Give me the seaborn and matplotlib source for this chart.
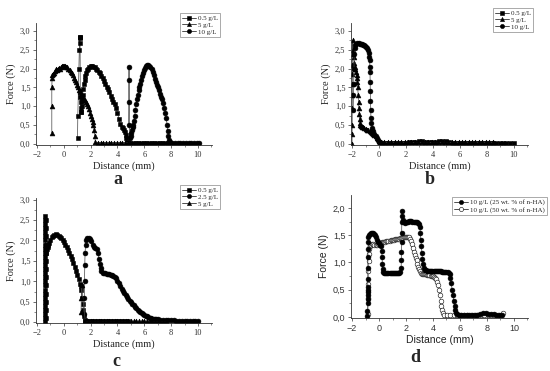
import matplotlib
matplotlib.use("Agg")
import matplotlib.pyplot as plt
import seaborn as sns
from matplotlib.lines import Line2D
from matplotlib.ticker import FuncFormatter, MultipleLocator

sns.set_style("ticks")
plt.rcParams['font.family'] = ['Liberation Serif', 'DejaVu Serif']

# ---------------- Panel a ----------------
A_LABELS = ["0.5 g/L", "5 g/L", "10 g/L"]
A_SQ_X = [1.02, 1.04, 1.12, 1.15, 1.17, 1.19, 1.2, 1.21, 1.22, 1.23, 1.24, 1.25, 1.27, 1.3, 1.33, 1.36, 1.4, 1.45,
          1.5, 1.55, 1.6, 1.66, 1.72, 1.8, 1.9, 2.0, 2.1, 2.2, 2.3, 2.4, 2.5, 2.6, 2.7, 2.8, 2.9, 3.0, 3.1, 3.2,
          3.3, 3.4, 3.5, 3.6, 3.7, 3.8, 3.9, 4.0, 4.1, 4.2, 4.3, 4.4, 4.5, 4.55, 4.6, 4.65, 4.7, 4.75,
          4.95, 5.15, 5.35, 5.55, 5.75, 5.95, 6.15, 6.35, 6.55, 6.75, 6.95, 7.15, 7.35, 7.55, 7.75, 7.95]
A_SQ_Y = [0.15, 0.75, 2.0, 2.5, 2.68, 2.8, 2.85, 2.83, 1.4, 1.25, 1.1, 0.95, 0.85, 0.85, 1.0, 1.15, 1.3, 1.45,
          1.58, 1.7, 1.8, 1.88, 1.95, 2.0, 2.04, 2.06, 2.06, 2.05, 2.03, 2.0, 1.97, 1.92, 1.87, 1.81, 1.74, 1.67, 1.6, 1.52,
          1.45, 1.37, 1.28, 1.2, 1.12, 1.05, 0.95, 0.82, 0.67, 0.53, 0.46, 0.42, 0.38, 0.32, 0.24, 0.15, 0.06, 0.03,
          0.03, 0.03, 0.03, 0.03, 0.03, 0.03, 0.03, 0.03, 0.03, 0.03, 0.03, 0.03, 0.03, 0.03, 0.03, 0.03]
A_TRI_X = [-0.9, -0.9, -0.9, -0.88, -0.85, -0.8, -0.72, -0.65, -0.58, -0.5, -0.42, -0.35, -0.28, -0.2, -0.12, -0.05,
           0.03, 0.1, 0.18, 0.26, 0.34, 0.42, 0.5, 0.58, 0.66, 0.74, 0.82, 0.9, 0.98, 1.06, 1.14, 1.22, 1.3, 1.38,
           1.46, 1.54, 1.62, 1.7, 1.78, 1.86, 1.94, 2.02, 2.08, 2.14, 2.2, 2.25, 2.3, 2.35,
           2.55, 2.75, 2.95, 3.15, 3.35, 3.55, 3.75, 3.95, 4.15, 4.35, 4.55, 4.75, 4.95]
A_TRI_Y = [0.3, 1.0, 1.5, 1.75, 1.82, 1.86, 1.88, 1.93, 1.98, 1.95, 2.0, 2.02, 2.0, 2.04, 2.06, 2.07,
           2.07, 2.06, 2.05, 2.03, 2.0, 1.96, 1.92, 1.87, 1.82, 1.76, 1.7, 1.63, 1.57, 1.5, 1.44, 1.39, 1.33, 1.28,
           1.22, 1.17, 1.11, 1.05, 1.0, 0.92, 0.83, 0.73, 0.65, 0.57, 0.5, 0.38, 0.2, 0.05,
           0.03, 0.03, 0.03, 0.03, 0.03, 0.03, 0.03, 0.03, 0.03, 0.03, 0.03, 0.03, 0.03]
A_CIR_X = [4.83, 4.84, 4.85, 4.86, 4.9, 4.97, 5.02, 5.07, 5.12, 5.17, 5.22, 5.28, 5.34, 5.4, 5.46, 5.52, 5.58, 5.64,
           5.7, 5.77, 5.84, 5.91, 5.98, 6.06, 6.14, 6.22, 6.3, 6.38, 6.46, 6.54, 6.62, 6.7, 6.78, 6.86, 6.94, 7.02,
           7.1, 7.18, 7.26, 7.34, 7.42, 7.5, 7.58, 7.64, 7.7, 7.75, 7.8, 7.85, 7.9,
           8.1, 8.3, 8.5, 8.7, 8.9, 9.1, 9.3, 9.5, 9.7, 9.9, 10.05]
A_CIR_Y = [0.5, 1.1, 1.7, 2.05, 0.15, 0.2, 0.28, 0.38, 0.45, 0.5, 0.6, 0.75, 0.9, 1.05, 1.18, 1.3, 1.42, 1.52,
           1.6, 1.7, 1.8, 1.88, 1.95, 2.02, 2.07, 2.1, 2.1, 2.08, 2.04, 1.98, 1.9, 1.82, 1.73, 1.65, 1.57, 1.5,
           1.42, 1.33, 1.24, 1.18, 1.08, 0.95, 0.82, 0.68, 0.5, 0.35, 0.2, 0.1, 0.04,
           0.03, 0.03, 0.03, 0.03, 0.03, 0.03, 0.03, 0.03, 0.03, 0.03, 0.03]

# ---------------- Panel b ----------------
B_LABELS = ["0.5 g/L", "5 g/L", "10 g/L"]
B_SQ_X = [0.2, 0.45, 0.7, 0.95, 1.2, 1.45, 1.7, 1.95, 2.2, 2.45, 2.7, 2.95, 3.2, 3.45, 3.7, 3.95, 4.2, 4.45,
          4.7, 4.95, 5.2, 5.45, 5.7, 5.95, 6.2, 6.45, 6.7, 6.95, 7.2, 7.45, 7.7, 7.95, 8.2, 8.45, 8.7, 8.95,
          9.2, 9.45, 9.7, 10.0]
B_SQ_Y = [0.03, 0.03, 0.03, 0.03, 0.03, 0.03, 0.03, 0.03, 0.04, 0.05, 0.06, 0.07, 0.07, 0.06, 0.04, 0.04, 0.05, 0.08,
          0.08, 0.07, 0.04, 0.03, 0.03, 0.03, 0.03, 0.03, 0.03, 0.03, 0.03, 0.03, 0.03, 0.03, 0.03, 0.02, 0.02, 0.02,
          0.02, 0.02, 0.02, 0.02]
B_TRI_X = [-2.0, -2.0, -1.99, -1.99, -1.98, -1.98, -1.97, -1.97, -1.96, -1.96, -1.92, -1.88, -1.84, -1.8, -1.75,
           -1.7, -1.65, -1.62, -1.6, -1.58, -1.55, -1.52, -1.5, -1.47, -1.44, -1.41, -1.38, -1.32, -1.25, -1.18,
           -1.1, -1.0, -0.9, -0.8, -0.7, -0.6, -0.5, -0.42, -0.34, -0.26, -0.18, -0.1, -0.02, 0.06, 0.15,
           0.4, 0.65, 0.9, 1.15, 1.4, 1.65, 1.9, 2.15, 2.4, 2.65, 2.9, 3.15, 3.4, 3.65, 3.9, 4.15, 4.4, 4.65,
           4.9, 5.15, 5.4, 5.65, 5.9, 6.15, 6.4, 6.65, 6.9, 7.15, 7.4, 7.65, 7.9, 8.15, 8.45]
B_TRI_Y = [0.0, 0.25, 0.5, 0.95, 1.3, 1.6, 1.85, 2.1, 2.4, 2.75, 2.5, 2.3, 2.15, 2.05, 1.98,
           1.9, 1.83, 1.75, 1.65, 1.5, 1.3, 1.1, 0.95, 0.8, 0.67, 0.56, 0.5, 0.47, 0.45, 0.44,
           0.42, 0.4, 0.38, 0.36, 0.34, 0.32, 0.3, 0.27, 0.24, 0.2, 0.16, 0.12, 0.08, 0.06, 0.04,
           0.04, 0.04, 0.04, 0.04, 0.04, 0.04, 0.04, 0.04, 0.04, 0.04, 0.04, 0.04, 0.04, 0.04, 0.04, 0.04, 0.04, 0.04,
           0.04, 0.04, 0.04, 0.04, 0.04, 0.04, 0.04, 0.04, 0.04, 0.04, 0.04, 0.04, 0.04, 0.04, 0.04]
B_CIR_X = [-1.92, -1.9, -1.88, -1.86, -1.84, -1.8, -1.75, -1.68, -1.6, -1.52, -1.44, -1.36, -1.28, -1.2, -1.12,
           -1.04, -0.96, -0.88, -0.82, -0.77, -0.73, -0.7, -0.68, -0.67, -0.66, -0.65, -0.64, -0.62, -0.6, -0.56,
           -0.5, -0.42, -0.34, -0.26, -0.18, -0.1, 0.0, 0.1]
B_CIR_Y = [0.9, 1.3, 1.6, 2.0, 2.4, 2.55, 2.62, 2.66, 2.67, 2.67, 2.66, 2.65, 2.64, 2.63, 2.62,
           2.6, 2.58, 2.55, 2.5, 2.42, 2.32, 2.22, 2.05, 1.9, 1.65, 1.4, 1.15, 0.9, 0.7, 0.55,
           0.42, 0.33, 0.26, 0.2, 0.15, 0.1, 0.06, 0.04]

# ---------------- Panel c ----------------
C_LABELS = ["0.5 g/L", "2.5 g/L", "5 g/L"]
C_SQ_X = [-1.39, -1.39, -1.39, -1.39, -1.39, -1.39, -1.39, -1.39, -1.39, -1.39, -1.39, -1.39, -1.39, -1.39,
          -1.39, -1.39, -1.39, -1.39, -1.39, -1.39, -1.39, -1.39, -1.39, -1.39, -1.39, -1.39, -1.39,
          -1.35, -1.35, -1.35, -1.35, -1.35, -1.35, -1.35, -1.35, -1.35, -1.35, -1.35, -1.35, -1.35,
          -1.3, -1.25, -1.2, -1.15, -1.1, -1.0, -0.9, -0.8, -0.7, -0.6, -0.5, -0.4, -0.3, -0.2, -0.1, 0.0, 0.1,
          0.2, 0.3, 0.4, 0.5, 0.6, 0.7, 0.8, 0.9, 1.0, 1.1, 1.2, 1.25, 1.3, 1.35, 1.4, 1.45, 1.5, 1.55, 1.6,
          1.8, 2.0, 2.2, 2.4, 2.6, 2.8, 3.0, 3.2, 3.4, 3.6, 3.8, 4.0, 4.2, 4.4, 4.6, 4.8]
C_SQ_Y = [0.0, 0.1, 0.2, 0.3, 0.4, 0.5, 0.6, 0.7, 0.8, 0.9, 1.0, 1.1, 1.2, 1.3,
          1.4, 1.5, 1.6, 1.7, 1.8, 1.9, 2.0, 2.1, 2.2, 2.3, 2.4, 2.5, 2.6,
          2.5, 2.3, 2.1, 1.9, 1.7, 1.5, 1.3, 1.1, 0.9, 0.7, 0.5, 0.3, 0.1,
          1.7, 1.78, 1.85, 1.9, 1.95, 2.02, 2.08, 2.12, 2.14, 2.15, 2.14, 2.12, 2.09, 2.05, 2.01, 1.96, 1.9,
          1.84, 1.77, 1.7, 1.62, 1.54, 1.45, 1.36, 1.26, 1.16, 1.05, 0.94, 0.88, 0.8, 0.6, 0.45, 0.3, 0.15, 0.06, 0.03,
          0.02, 0.02, 0.02, 0.02, 0.02, 0.02, 0.02, 0.02, 0.02, 0.02, 0.02, 0.02, 0.02, 0.02, 0.02, 0.02]
C_CIR_X = [1.5, 1.52, 1.54, 1.56, 1.58, 1.62, 1.68, 1.75, 1.85, 1.95, 2.05, 2.15, 2.25, 2.35,
           2.45, 2.55, 2.62, 2.68, 2.74, 2.8, 2.9, 3.0, 3.1, 3.2, 3.3, 3.4, 3.5, 3.6, 3.7, 3.8, 3.9, 4.0, 4.1,
           4.2, 4.3, 4.4, 4.5, 4.6, 4.7, 4.8, 4.9, 5.0, 5.1, 5.2, 5.3, 5.4, 5.5, 5.6, 5.7, 5.8, 5.9, 6.0, 6.1,
           6.2, 6.3, 6.4, 6.5, 6.6, 6.7, 6.8, 6.9, 7.0, 7.2, 7.4, 7.6, 7.8, 8.0, 8.2, 8.4, 8.6, 8.8, 9.0, 9.2,
           9.4, 9.6, 9.8, 10.0]
C_CIR_Y = [0.2, 0.6, 1.0, 1.4, 1.7, 1.9, 2.02, 2.05, 2.05, 2.03, 1.98, 1.88, 1.84, 1.82,
           1.78, 1.7, 1.55, 1.42, 1.32, 1.25, 1.21, 1.2, 1.2, 1.19, 1.18, 1.17, 1.16, 1.15, 1.13, 1.1, 1.07, 1.02, 0.95,
           0.88, 0.82, 0.77, 0.72, 0.67, 0.62, 0.57, 0.53, 0.49, 0.45, 0.41, 0.37, 0.34, 0.31, 0.28, 0.25, 0.22, 0.2, 0.18, 0.16,
           0.14, 0.12, 0.11, 0.1, 0.09, 0.08, 0.08, 0.07, 0.07, 0.06, 0.06, 0.05, 0.05, 0.05, 0.05, 0.04, 0.04, 0.04, 0.04, 0.04,
           0.04, 0.04, 0.04, 0.04]
C_TRI_X = [1.28, 1.3, 1.32, 1.6, 1.8, 2.0, 2.2, 2.4, 2.6, 2.8, 3.0, 3.2, 3.4, 3.6, 3.8, 4.0, 4.2, 4.4, 4.6, 4.8,
           5.0, 5.2, 5.4, 5.6, 5.8, 6.0, 6.2, 6.4, 6.6, 6.8, 7.0, 7.2, 7.4, 7.6]
C_TRI_Y = [0.25, 0.6, 0.9, 0.02, 0.02, 0.02, 0.02, 0.02, 0.02, 0.02, 0.02, 0.02, 0.02, 0.02, 0.02, 0.02, 0.02,
           0.02, 0.02, 0.02, 0.02, 0.02, 0.02, 0.02, 0.02, 0.02, 0.02, 0.02, 0.02, 0.02, 0.02, 0.02, 0.02, 0.02]

# ---------------- Panel d ----------------
D_LABELS = ["10 g/L (25 wt. % of n-HA)", "10 g/L (50 wt. % of n-HA)"]
D_25_X = [-0.86, -0.86, -0.85, -0.85, -0.85, -0.84, -0.84, -0.84, -0.84, -0.83, -0.83, -0.82, -0.81, -0.8, -0.76,
          -0.7, -0.62, -0.54, -0.46, -0.38, -0.3, -0.22, -0.14, -0.06, 0.02, 0.1, 0.16, 0.2, 0.22, 0.24, 0.26,
          0.3, 0.38, 0.46, 0.54, 0.62, 0.7, 0.78, 0.86, 0.94, 1.02, 1.1, 1.18, 1.26, 1.34, 1.42, 1.5, 1.58,
          1.64, 1.65, 1.66, 1.67, 1.68, 1.69, 1.7, 1.74, 1.78, 1.84, 1.92, 2.0, 2.08, 2.16, 2.24, 2.32, 2.4,
          2.48, 2.56, 2.64, 2.72, 2.8, 2.88, 2.96, 3.02, 3.06, 3.1, 3.14, 3.18, 3.22, 3.26, 3.32, 3.4, 3.48,
          3.56, 3.64, 3.72, 3.8, 3.88, 3.96, 4.04, 4.12, 4.2, 4.28, 4.36, 4.44, 4.52, 4.6, 4.68, 4.76, 4.84,
          4.92, 5.0, 5.08, 5.16, 5.24, 5.3, 5.36, 5.42, 5.48, 5.54, 5.6, 5.66, 5.72, 5.8, 5.9,
          6.1, 6.3, 6.5, 6.7, 6.9, 7.1, 7.3, 7.5, 7.7, 7.9, 8.1, 8.3, 8.5, 8.7, 8.9, 9.1]
D_25_Y = [0.02, 0.1, 0.25, 0.33, 0.4, 0.45, 0.5, 0.55, 0.7, 0.9, 1.1, 1.25, 1.38, 1.46, 1.5,
          1.53, 1.55, 1.55, 1.55, 1.53, 1.5, 1.46, 1.42, 1.38, 1.35, 1.33, 1.3, 1.22, 1.1, 0.98, 0.88,
          0.83, 0.81, 0.8, 0.8, 0.8, 0.8, 0.8, 0.8, 0.8, 0.8, 0.8, 0.8, 0.8, 0.8, 0.8, 0.81, 0.82,
          0.9, 1.05, 1.2, 1.38, 1.55, 1.75, 1.94, 1.85, 1.78, 1.74, 1.73, 1.74, 1.75, 1.75, 1.76, 1.76, 1.76,
          1.75, 1.75, 1.75, 1.74, 1.74, 1.72, 1.7, 1.65, 1.55, 1.42, 1.3, 1.18, 1.06, 0.97, 0.9, 0.87, 0.86,
          0.85, 0.85, 0.85, 0.85, 0.85, 0.85, 0.85, 0.85, 0.85, 0.85, 0.84, 0.84, 0.84, 0.84, 0.83, 0.83, 0.83,
          0.82, 0.82, 0.82, 0.8, 0.78, 0.72, 0.62, 0.5, 0.4, 0.3, 0.2, 0.12, 0.07, 0.05, 0.04,
          0.04, 0.04, 0.04, 0.04, 0.04, 0.04, 0.04, 0.06, 0.07, 0.07, 0.06, 0.05, 0.05, 0.04, 0.04, 0.04]
D_50_X = [-0.82, -0.81, -0.8, -0.79, -0.78, -0.76, -0.72, -0.66, -0.58, -0.5, -0.42, -0.34, -0.26, -0.18, -0.1,
          -0.02, 0.06, 0.14, 0.22, 0.3, 0.38, 0.46, 0.54, 0.62, 0.7, 0.78, 0.86, 0.94, 1.02, 1.1, 1.18, 1.26,
          1.34, 1.42, 1.5, 1.58, 1.66, 1.74, 1.82, 1.9, 1.98, 2.06, 2.14, 2.22, 2.3, 2.38, 2.46, 2.54, 2.6,
          2.66, 2.72, 2.78, 2.84, 2.9, 2.96, 3.02, 3.1, 3.18, 3.26, 3.34, 3.42, 3.5, 3.58, 3.66, 3.74, 3.82,
          3.9, 3.98, 4.06, 4.14, 4.22, 4.3, 4.38, 4.44, 4.5, 4.56, 4.62, 4.68, 4.74, 4.8,
          5.05, 5.3, 5.55, 5.8, 6.05, 6.3, 6.55, 6.8, 7.05, 7.3, 7.55, 7.8, 8.05, 8.3, 8.55, 8.8, 9.05, 9.2]
D_50_Y = [0.05, 0.35, 0.6, 0.85, 1.02, 1.15, 1.24, 1.3, 1.33, 1.34, 1.34, 1.33, 1.33, 1.33, 1.34,
          1.35, 1.35, 1.36, 1.37, 1.37, 1.38, 1.38, 1.39, 1.39, 1.4, 1.4, 1.41, 1.41, 1.42, 1.42, 1.43, 1.43,
          1.44, 1.44, 1.44, 1.45, 1.45, 1.45, 1.46, 1.46, 1.46, 1.47, 1.47, 1.46, 1.44, 1.4, 1.34, 1.27, 1.2,
          1.14, 1.09, 1.04, 0.98, 0.92, 0.88, 0.84, 0.81, 0.79, 0.78, 0.78, 0.78, 0.78, 0.77, 0.77, 0.77, 0.76,
          0.76, 0.75, 0.74, 0.72, 0.69, 0.65, 0.58, 0.5, 0.4, 0.3, 0.2, 0.12, 0.07, 0.04,
          0.03, 0.03, 0.03, 0.03, 0.03, 0.03, 0.03, 0.03, 0.03, 0.03, 0.03, 0.03, 0.03, 0.03, 0.03, 0.03, 0.03, 0.07]

X_TICKS = [-2, 0, 2, 4, 6, 8, 10]
Y_TICKS_ABC = [0.0, 0.5, 1.0, 1.5, 2.0, 2.5, 3.0]
Y_TICKS_D = [0.0, 0.5, 1.0, 1.5, 2.0]

W, H = 550, 371
fig = plt.figure(figsize=(W / 100, H / 100), dpi=100)


def rect(left, top, right, bottom):
    return [left / W, 1 - bottom / H, (right - left) / W, (bottom - top) / H]


ax_a = fig.add_axes(rect(36, 23, 212, 145))
ax_b = fig.add_axes(rect(351, 23, 528, 145))
ax_c = fig.add_axes(rect(36, 198, 212, 323))
ax_d = fig.add_axes(rect(351, 195, 528, 318))

MS = 3.5


def draw(ax, x, y, marker, mfc='black', ms=MS, lc='#444444'):
    sns.lineplot(x=x, y=y, sort=False, estimator=None, ax=ax, color=lc, linewidth=0.5,
                 marker=marker, markersize=ms, markerfacecolor=mfc, markeredgecolor='black',
                 markeredgewidth=0.4, legend=False)


draw(ax_a, A_SQ_X, A_SQ_Y, 's')
draw(ax_a, A_TRI_X, A_TRI_Y, '^')
draw(ax_a, A_CIR_X, A_CIR_Y, 'o')

draw(ax_b, B_SQ_X, B_SQ_Y, 's')
draw(ax_b, B_TRI_X, B_TRI_Y, '^')
draw(ax_b, B_CIR_X, B_CIR_Y, 'o')

draw(ax_c, C_SQ_X, C_SQ_Y, 's')
draw(ax_c, C_CIR_X, C_CIR_Y, 'o')
draw(ax_c, C_TRI_X, C_TRI_Y, '^')

draw(ax_d, D_50_X, D_50_Y, 'o', mfc='white', ms=3.4, lc='#777777')
draw(ax_d, D_25_X, D_25_Y, 'o', ms=3.5)

comma = FuncFormatter(lambda v, p: f"{v:.1f}".replace('.', ','))


def style(ax, ylim, yticks, sans=False):
    fam = ['Liberation Sans', 'DejaVu Sans'] if sans else ['Liberation Serif', 'DejaVu Serif']
    tsize = 6.5 if sans else 6
    ax.set_xlim(-2.08, 11.05)
    ax.set_ylim(*ylim)
    ax.set_xticks(X_TICKS)
    ax.set_yticks(yticks)
    ax.xaxis.set_minor_locator(MultipleLocator(1))
    ax.yaxis.set_minor_locator(MultipleLocator(0.25))
    ax.yaxis.set_major_formatter(comma)
    sns.despine(ax=ax)
    for s in ('left', 'bottom'):
        ax.spines[s].set_linewidth(0.6)
        ax.spines[s].set_color('#333333')
    ax.tick_params(which='major', length=2.5, width=0.5, pad=1.5, labelsize=tsize, colors='#333333')
    ax.tick_params(which='minor', length=1.5, width=0.4, colors='#333333')
    for lab in ax.get_xticklabels() + ax.get_yticklabels():
        lab.set_family(fam)
    ax.set_xlabel("Distance (mm)", fontsize=7.5, family=fam, labelpad=2, color='#222222')
    ax.set_ylabel("Force (N)", fontsize=7.5, family=fam, labelpad=3, color='#222222')
    ax.set_facecolor('white')


style(ax_a, (-0.03, 3.21), Y_TICKS_ABC)
style(ax_b, (-0.03, 3.21), Y_TICKS_ABC)
style(ax_c, (-0.02, 3.04), Y_TICKS_ABC)
style(ax_d, (-0.02, 2.24), Y_TICKS_D, sans=True)


def handles(markers, fills):
    return [Line2D([0], [0], color='#333333', lw=0.6, marker=m, markersize=3,
                   markerfacecolor=f, markeredgecolor='black', markeredgewidth=0.4)
            for m, f in zip(markers, fills)]


def legend(ax, hs, labels, anchor):
    lg = ax.legend(hs, labels, loc='upper right', bbox_to_anchor=anchor, bbox_transform=fig.transFigure,
                   fontsize=5, frameon=True, fancybox=False, edgecolor='#888888', framealpha=1,
                   handlelength=2.0, handletextpad=0.3, borderpad=0.3, labelspacing=0.15, borderaxespad=0)
    lg.get_frame().set_linewidth(0.5)
    for t in lg.get_texts():
        t.set_family(['Liberation Serif', 'DejaVu Serif'])
    return lg


legend(ax_a, handles(['s', '^', 'o'], ['black'] * 3), A_LABELS, (220 / W, 1 - 13 / H))
legend(ax_b, handles(['s', '^', 'o'], ['black'] * 3), B_LABELS, (533 / W, 1 - 8 / H))
legend(ax_c, handles(['s', 'o', '^'], ['black'] * 3), C_LABELS, (220 / W, 1 - 185 / H))
legend(ax_d, handles(['o', 'o'], ['black', 'white']), D_LABELS, (547 / W, 1 - 197 / H))

for letter, x, y in [('a', 118, 180), ('b', 430, 180), ('c', 116, 362), ('d', 415, 357)]:
    fig.text(x / W, 1 - y / H, letter, ha='center', va='center', fontsize=13, fontweight='bold',
             family=['Liberation Serif', 'DejaVu Serif'])

fig.savefig("out.png", dpi=100, facecolor='white')
